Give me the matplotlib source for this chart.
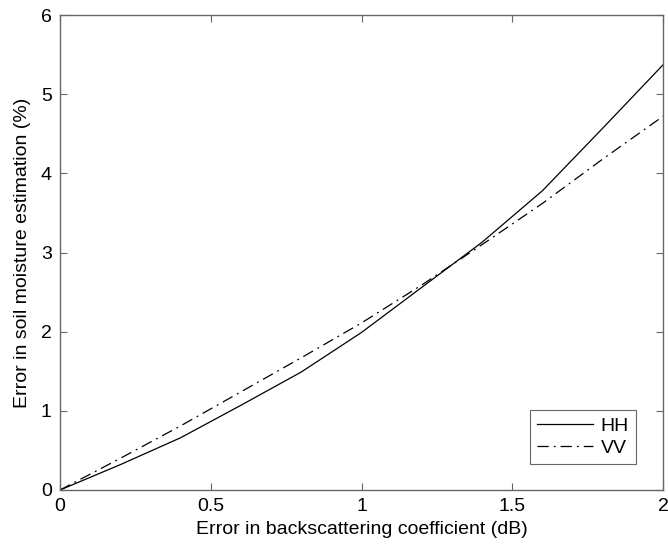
import matplotlib
matplotlib.use('Agg')
import matplotlib.pyplot as plt

# error in backscattering coefficient (dB)
x_db = [0, 0.2, 0.4, 0.6, 0.8, 1.0, 1.2, 1.4, 1.6, 1.8, 2.0]
# error in soil moisture estimation (%)
hh = [0, 0.32, 0.66, 1.07, 1.49, 1.99, 2.56, 3.13, 3.78, 4.57, 5.37]
vv = [0, 0.40, 0.81, 1.24, 1.67, 2.11, 2.59, 3.10, 3.62, 4.18, 4.72]

plt.rcParams['font.family'] = ['Liberation Sans', 'DejaVu Sans']
plt.rcParams['font.size'] = 14

fig = plt.figure(figsize=(6.68, 5.44), dpi=100)
ax = fig.add_axes([60 / 668, 1 - 490 / 544, 603 / 668, 475 / 544])

ax.plot(x_db, hh, color='black', lw=0.9, label='HH')
ax.plot(x_db, vv, color='black', lw=0.9, linestyle=(0, (9, 4, 1.5, 4)), label='VV')

ax.set_xlim(0, 2)
ax.set_ylim(0, 6)
ax.set_xticks([0, 0.5, 1, 1.5, 2])
ax.set_xticklabels(['0', '0.5', '1', '1.5', '2'])
ax.set_yticks([0, 1, 2, 3, 4, 5, 6])
ax.tick_params(direction='in', top=True, right=True, length=5, width=0.8,
               color='#666666', pad=6)
for s in ax.spines.values():
    s.set_color('#666666')
    s.set_linewidth(1.0)

ax.set_xlabel('Error in backscattering coefficient (dB)', labelpad=4)
ax.set_ylabel('Error in soil moisture estimation (%)', labelpad=7)

leg = ax.legend(loc='lower right', bbox_to_anchor=(0.955, 0.055), fancybox=False,
                edgecolor='#666666', framealpha=1, handlelength=2.9,
                handletextpad=0.4, borderpad=0.35, labelspacing=0.25,
                borderaxespad=0)
leg.get_frame().set_linewidth(0.8)

fig.savefig('out.png', dpi=100)
